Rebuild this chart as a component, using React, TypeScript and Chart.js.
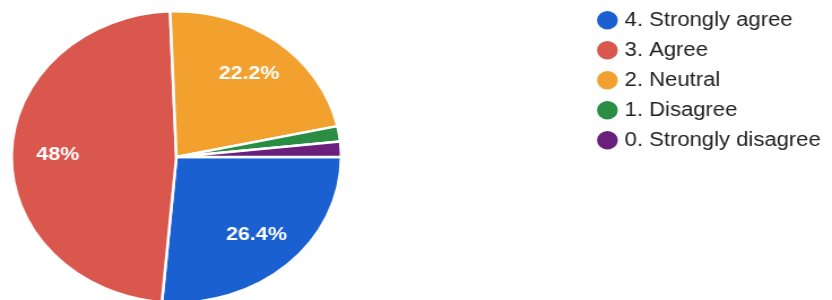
import React, { useEffect, useRef } from "react";
import { Chart, registerables } from "chart.js";

Chart.register(...registerables);

// ---- data ----
const categories = [
  "4. Strongly agree",
  "3. Agree",
  "2. Neutral",
  "1. Disagree",
  "0. Strongly disagree",
];
const percentages = [26.4, 48, 22.2, 1.7, 1.7];
const sliceColors = ["#1b60d0", "#d9574d", "#f2a12f", "#2b8c44", "#6a1f7c"];

// ---- style / layout ----
const FONT = "Arial, 'Liberation Sans', Helvetica, sans-serif";
const OUT_W = 832;
const OUT_H = 300;
const DRAW_W = 736; // the reference photo is stretched horizontally
const PIE = { cx: 156, cy: 157, r: 147 };
const START_ROTATION = 90; // first slice starts at 3 o'clock
const LABEL_RADIUS = 0.72;
const MIN_LABEL_PCT = 5;

const pieAreaPlugin = {
  id: "pieArea",
  afterLayout(chart: any) {
    chart.chartArea = {
      left: PIE.cx - PIE.r,
      top: PIE.cy - PIE.r,
      right: PIE.cx + PIE.r,
      bottom: PIE.cy + PIE.r,
      width: 2 * PIE.r,
      height: 2 * PIE.r,
    };
  },
};

const percentLabels = {
  id: "percentLabels",
  afterDatasetsDraw(chart: any) {
    const ctx = chart.ctx;
    const meta = chart.getDatasetMeta(0);
    const data = chart.data.datasets[0].data as number[];
    const total = data.reduce((a, b) => a + b, 0);
    ctx.save();
    ctx.fillStyle = "#ffffff";
    ctx.font = `bold 19px ${FONT}`;
    ctx.textAlign = "center";
    ctx.textBaseline = "middle";
    meta.data.forEach((arc: any, i: number) => {
      const pct = (data[i] / total) * 100;
      if (pct < MIN_LABEL_PCT) return;
      const { x, y, startAngle, endAngle, outerRadius } = arc.getProps(
        ["x", "y", "startAngle", "endAngle", "outerRadius"],
        true
      );
      const mid = (startAngle + endAngle) / 2;
      const r = outerRadius * LABEL_RADIUS;
      ctx.fillText(`${+pct.toFixed(1)}%`, x + Math.cos(mid) * r, y + Math.sin(mid) * r);
    });
    ctx.restore();
  },
};

export default function App() {
  const ref = useRef<HTMLCanvasElement>(null);

  useEffect(() => {
    const canvas = ref.current;
    if (!canvas) return;
    const baseGen =
      (Chart as any).overrides?.pie?.plugins?.legend?.labels?.generateLabels ||
      (Chart as any).overrides?.doughnut?.plugins?.legend?.labels?.generateLabels;

    const chart = new Chart(canvas, {
      type: "pie",
      data: {
        labels: categories,
        datasets: [
          {
            data: percentages,
            backgroundColor: sliceColors,
            borderColor: "#ffffff",
            borderWidth: 2.5,
            hoverOffset: 0,
          },
        ],
      },
      options: {
        responsive: false,
        animation: false,
        devicePixelRatio: 1,
        rotation: START_ROTATION,
        events: [],
        layout: { padding: 0 },
        plugins: {
          tooltip: { enabled: false },
          legend: {
            position: "right",
            align: "start",
            labels: {
              usePointStyle: true,
              pointStyle: "circle",
              boxWidth: 11,
              boxHeight: 13,
              padding: 10.5,
              color: "#222222",
              font: { family: FONT, size: 19.5 },
              generateLabels: (c: any) =>
                baseGen(c).map((l: any) => ({ ...l, lineWidth: 0, strokeStyle: l.fillStyle })),
            },
          },
        },
      } as any,
      plugins: [pieAreaPlugin, percentLabels],
    });
    return () => chart.destroy();
  }, []);

  return (
    <div
      style={{
        position: "absolute",
        left: 0,
        top: 0,
        width: OUT_W,
        height: OUT_H,
        background: "#ffffff",
        overflow: "hidden",
      }}
    >
      <canvas
        ref={ref}
        width={DRAW_W}
        height={OUT_H}
        style={{ width: `${OUT_W}px`, height: `${OUT_H}px`, display: "block" }}
      />
    </div>
  );
}
